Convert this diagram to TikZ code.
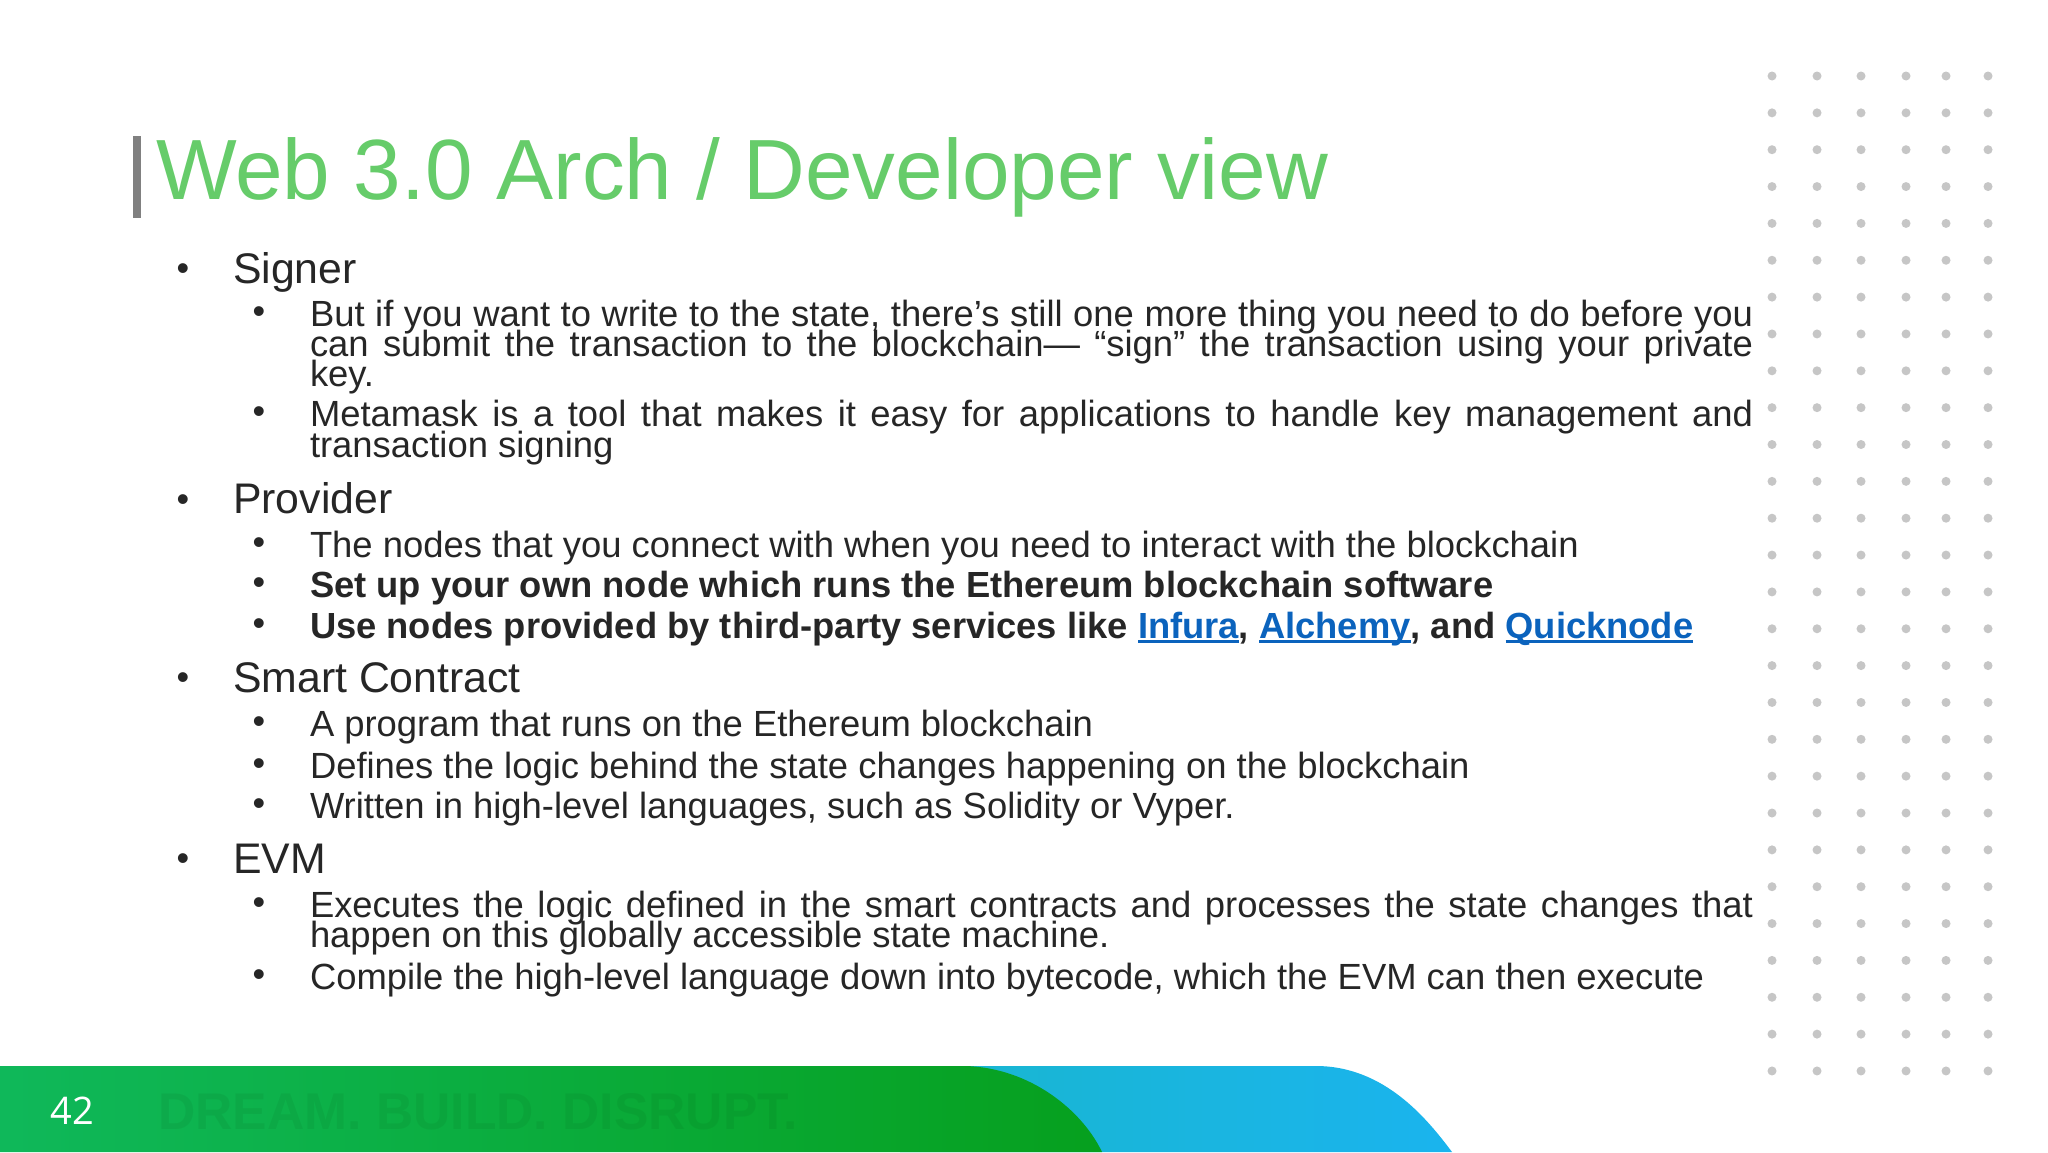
\documentclass[tikz,border=0pt]{standalone}
\usepackage{fontspec}
\setmainfont{Liberation Sans}
\newfontfamily\numfont{Open Sans}
\usetikzlibrary{shadings}
\definecolor{txt}{HTML}{262626}
\definecolor{ttl}{HTML}{66CC6A}
\definecolor{lnkc}{HTML}{0B63BD}
\definecolor{dotc}{HTML}{C6C6C6}
\definecolor{gL}{HTML}{0FB85A}
\definecolor{gR}{HTML}{06A01E}
\definecolor{bL}{HTML}{19B6CE}
\definecolor{bR}{HTML}{1AB4EE}
\newlength{\lnkw}
\newcommand{\lnk}[1]{\settowidth{\lnkw}{#1}\textcolor{lnkc}{\rlap{\rule[-2.6pt]{\lnkw}{1.7pt}}#1}}
\newcommand{\just}[1]{\makebox[721.5pt][s]{#1}}
\tikzset{
  base/.style={anchor=base west,inner sep=0pt,outer sep=0pt,text=txt},
  lone/.style={base,font=\fontsize{21.4}{21.4}\selectfont},
  ltwo/.style={base,font=\fontsize{18.2}{18.2}\selectfont},
  ltwob/.style={base,font=\bfseries\fontsize{18.17}{18.17}\selectfont},
  bul/.style={anchor=base,inner sep=0pt,text=txt,font=\fontsize{18}{18}\selectfont}
}
\begin{document}
\begin{tikzpicture}[x=0.5pt,y=-0.5pt]
\useasboundingbox (0,0) rectangle (2048,1152);
\fill[white] (0,0) rectangle (2048,1152);
% dots
\foreach \x in {1772,1817,1861,1906,1946,1988}
  \foreach \r in {0,...,27}
    \fill[dotc] (\x,76+36.85*\r) circle (4.5);
% footer
\shade[left color=bL,right color=bR] (900,1066) -- (1316,1066) .. controls (1385,1066) and (1428,1120) .. (1452,1152) -- (900,1152) -- cycle;
\shade[left color=gL,right color=gR] (0,1066) -- (966,1066) .. controls (1030,1068) and (1082,1110) .. (1102,1152) -- (0,1152) -- cycle;
\node[anchor=base west,inner sep=0pt,text=black!60!gR,opacity=.08,font=\bfseries\fontsize{25.8}{25.8}\selectfont] (tagline) at (158,1129) {DREAM. BUILD. DISRUPT.};
\node[anchor=base west,inner sep=0pt,text=white,font=\numfont\fontsize{19}{19}\selectfont] (pagenum) at (50,1124) {42};
% title
\fill[black!50] (133,136) rectangle (141,218);
\node[base,text=ttl,font=\fontsize{42.75}{42.75}\selectfont] (title) at (156,199) {Web 3.0 Arch / Developer view};
% body
\node[lone] (signer) at (233,283) {Signer};
\node[ltwo] (a1) at (310,326) {\just{But if you want to write to the state, there’s still one more thing you need to do before you}};
\node[ltwo] (a2) at (310,356) {\just{can submit the transaction to the blockchain— “sign” the transaction using your private}};
\node[ltwo] (a3) at (310,386) {key.};
\node[ltwo] (a4) at (310,426) {\just{Metamask is a tool that makes it easy for applications to handle key management and}};
\node[ltwo] (a5) at (310,457) {transaction signing};
\node[lone] (provider) at (233,513) {Provider};
\node[ltwo] (b1) at (310,557) {The nodes that you connect with when you need to interact with the blockchain};
\node[ltwob] (b2) at (310,597.500) {Set up your own node which runs the Ethereum blockchain software};
\node[ltwob] (b3) at (310,638) {Use nodes provided by third-party services like \lnk{Infura}, \lnk{Alchemy}, and \lnk{Quicknode}};
\node[lone] (smart) at (233,692) {Smart Contract};
\node[ltwo] (c1) at (310,736) {A program that runs on the Ethereum blockchain};
\node[ltwo] (c2) at (310,778) {Defines the logic behind the state changes happening on the blockchain};
\node[ltwo] (c3) at (310,818) {Written in high-level languages, such as Solidity or Vyper.};
\node[lone] (evm) at (233,873) {EVM};
\node[ltwo] (d1) at (310,917) {\just{Executes the logic defined in the smart contracts and processes the state changes that}};
\node[ltwo] (d2) at (310,947) {happen on this globally accessible state machine.};
\node[ltwo] (d3) at (310,989) {Compile the high-level language down into bytecode, which the EVM can then execute};
% bullets
\foreach \y in {283,514,692,873} \node[bul] at (183,\y-3) {•};
\foreach \y in {326,426,557,597.5,638,736,778,818,917,989} \node[bul] at (259,\y-3) {•};
\end{tikzpicture}
\end{document}
